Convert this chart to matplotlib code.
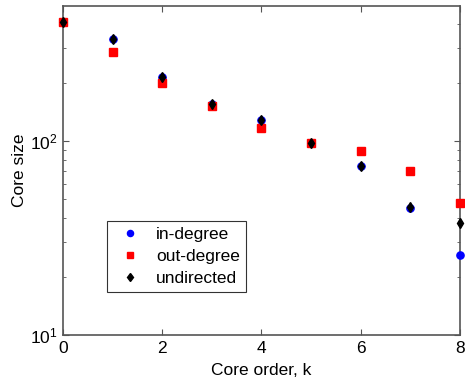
import matplotlib
matplotlib.use("Agg")
import matplotlib.pyplot as plt
from matplotlib.ticker import LogLocator, NullFormatter

plt.rcParams['font.family'] = ['Liberation Sans', 'DejaVu Sans']
plt.rcParams['mathtext.fontset'] = 'custom'
plt.rcParams['mathtext.rm'] = 'Liberation Sans'
plt.rcParams['mathtext.default'] = 'regular'

k = [0, 1, 2, 3, 4, 5, 6, 7, 8]
in_degree = [412, 336, 213, 156, 128, 98, 74, 45, 26]
out_degree = [412, 287, 200, 152, 117, 98, 89, 70, 48]
undirected = [412, 336, 213, 156, 128, 98, 74, 45.5, 38]

fig = plt.figure(figsize=(4.65, 3.81), dpi=100)
ax = fig.add_axes([0.1355, 0.1207, 0.8535, 0.8633])

ax.plot(k, in_degree, 'o', color='#0000ff', markersize=5.2, label='in-degree', clip_on=False, zorder=3)
ax.plot(k, out_degree, 's', color='#ff0000', markersize=5.8, label='out-degree', clip_on=False, zorder=3)
ax.plot(k, undirected, 'd', color='black', markersize=5.0, label='undirected', clip_on=False, zorder=4)

ax.set_yscale('log')
ax.set_xlim(0, 8)
ax.set_ylim(10, 496)
ax.set_xticks([0, 2, 4, 6, 8])
ax.yaxis.set_major_locator(LogLocator(base=10, numticks=10))
ax.yaxis.set_minor_locator(LogLocator(base=10, subs=range(2, 10), numticks=20))
ax.yaxis.set_minor_formatter(NullFormatter())

for s in ax.spines.values():
    s.set_color('#555555')
    s.set_linewidth(1.2)
ax.tick_params(which='both', direction='in', top=True, right=True, labelsize=12.5, colors='#555555', labelcolor='black')
ax.tick_params(which='major', length=4, pad=4)
ax.tick_params(which='minor', length=2.5)

ax.set_xlabel('Core order, k', fontsize=12.5, labelpad=5)
ax.set_ylabel('Core size', fontsize=12.5, labelpad=2)

leg = ax.legend(loc='lower left', bbox_to_anchor=(0.11, 0.13), fontsize=12.5, frameon=True, fancybox=False,
                edgecolor='black', borderpad=0.35, labelspacing=0.4, handletextpad=0.5, borderaxespad=0,
                handlelength=2.0, markerscale=0.85)
leg.get_frame().set_linewidth(0.8)

fig.savefig('out.png', dpi=100)
